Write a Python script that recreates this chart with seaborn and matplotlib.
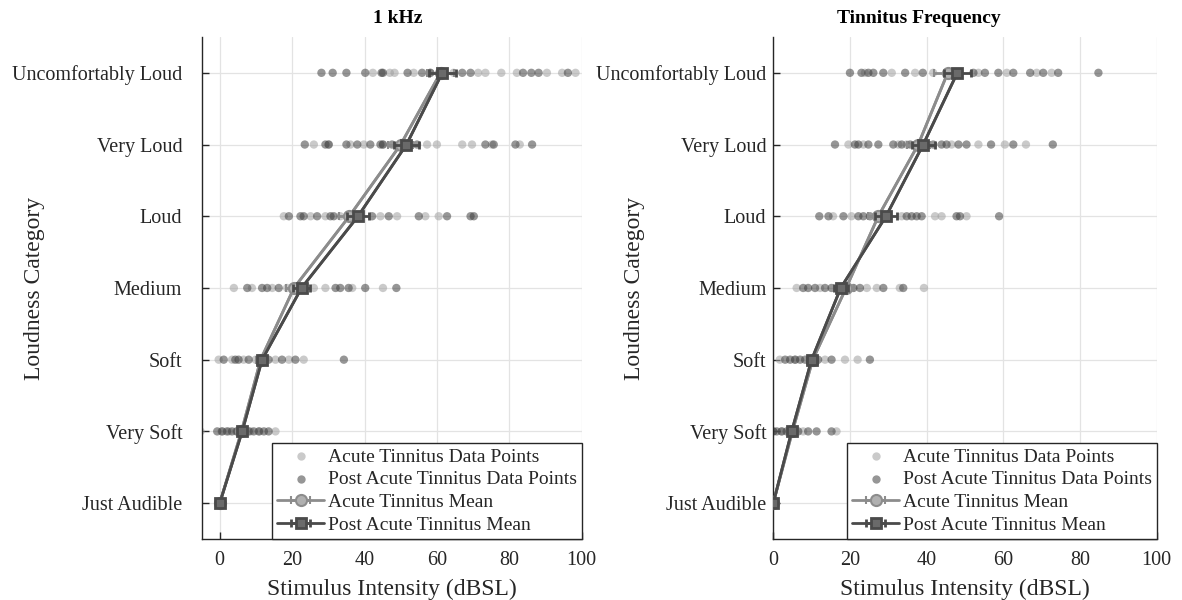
import numpy as np
import pandas as pd
import matplotlib
matplotlib.use("Agg")
import matplotlib.pyplot as plt
import seaborn as sns

categories = ["Just Audible", "Very Soft", "Soft", "Medium", "Loud", "Very Loud", "Uncomfortably Loud"]
x_ticks = [0, 20, 40, 60, 80, 100]

# ---- 1 kHz panel: individual points (dBSL) per loudness category ----
khz_acute_ja = [0, 0, 0, 0, 0, 0]
khz_acute_vs = [-5.3, 0.5, 2.5, 4.5, 6.0, 8.5, 11.0, 15.4]
khz_acute_soft = [-0.3, 3.4, 6.6, 9.9, 12.5, 15.4, 19.1, 23.2]
khz_acute_med = [3.9, 8.9, 14.5, 18.6, 20.4, 26.0, 29.2, 36.6, 45.1]
khz_acute_loud = [17.7, 25.1, 29.2, 33.3, 36.0, 44.4, 49.0, 56.8, 60.5]
khz_acute_vl = [26.0, 30.1, 36.1, 39.8, 45.1, 49.9, 57.3, 60.0, 67.0, 69.7, 75.2, 82.9]
khz_acute_ul = [42.3, 47.0, 48.3, 53.6, 58.2, 64.6, 71.4, 73.4, 77.8, 82.1, 90.4, 94.6, 98.3]

khz_post_ja = [0, 0, 0, 0, 0, 0]
khz_post_vs = [-0.7, 0.7, 2.0, 3.4, 4.8, 6.2, 8.0, 9.4, 10.8, 12.2, 13.5]
khz_post_soft = [1.1, 4.3, 5.2, 8.0, 11.7, 13.5, 17.2, 20.9, 34.3]
khz_post_med = [7.6, 11.7, 13.1, 16.3, 22.8, 32.0, 33.3, 35.6, 40.2, 48.8]
khz_post_loud = [19.1, 22.3, 23.2, 26.9, 30.6, 31.5, 38.4, 42.1, 46.7, 55.0, 62.8, 69.3, 70.2]
khz_post_vl = [23.5, 29.2, 30.1, 35.0, 38.0, 41.6, 44.4, 45.1, 47.6, 51.8, 54.5, 73.4, 75.7, 81.7, 86.3]
khz_post_ul = [28.1, 31.2, 35.0, 40.2, 44.7, 45.1, 51.9, 55.9, 58.2, 61.5, 67.0, 69.3, 83.8, 86.1, 88.1, 96.2]

khz_acute_mean = [0, 6.0, 11.3, 20.5, 35.8, 50.0, 61.0]
khz_acute_sem = [0, 0.9, 1.2, 2.2, 2.8, 3.4, 3.8]
khz_post_mean = [0, 6.2, 11.7, 22.6, 38.2, 51.6, 61.5]
khz_post_sem = [0, 0.8, 1.1, 2.3, 3.0, 3.5, 3.7]

# ---- Tinnitus frequency panel ----
tf_acute_ja = [0, 0, 0, 0, 0, 0]
tf_acute_vs = [0.0, 2.2, 4.8, 7.8, 16.5]
tf_acute_soft = [1.7, 5.7, 10.0, 13.5, 18.7, 22.0]
tf_acute_med = [6.1, 12.2, 19.1, 24.4, 27.0, 33.0, 39.3]
tf_acute_loud = [15.6, 20.4, 27.4, 33.5, 42.2, 43.9, 50.4]
tf_acute_vl = [19.6, 23.5, 32.6, 34.8, 37.8, 46.5, 53.5, 60.4, 65.9]
tf_acute_ul = [23.9, 30.9, 37.0, 41.7, 45.2, 53.5, 60.9, 68.7, 72.6]

tf_post_ja = [0, 0, 0, 0, 0, 0]
tf_post_vs = [0.0, 0.9, 2.2, 3.5, 4.8, 6.5, 9.1, 11.3, 15.2]
tf_post_soft = [3.1, 4.4, 5.7, 7.0, 8.3, 10.0, 11.7, 15.2, 25.2]
tf_post_med = [7.8, 9.1, 10.9, 13.5, 15.2, 17.4, 20.9, 22.6, 28.7, 33.9]
tf_post_loud = [12.0, 14.4, 18.3, 22.2, 23.5, 25.2, 29.6, 34.8, 36.1, 37.4, 38.7, 47.8, 48.7, 58.9]
tf_post_vl = [16.1, 21.3, 22.2, 24.8, 27.4, 31.3, 33.5, 35.7, 39.1, 41.7, 43.9, 45.2, 48.3, 50.4, 56.8, 62.6, 72.9]
tf_post_ul = [20.0, 23.0, 24.8, 26.1, 28.7, 34.4, 39.0, 48.0, 52.2, 55.2, 58.7, 62.6, 67.0, 70.4, 74.3, 84.8]

tf_acute_mean = [0, 5.0, 10.3, 19.0, 27.4, 37.8, 45.5]
tf_acute_sem = [0, 1.0, 1.4, 2.0, 2.8, 3.0, 3.6]
tf_post_mean = [0, 4.8, 10.0, 17.6, 29.4, 39.1, 48.0]
tf_post_sem = [0, 0.9, 1.3, 1.8, 2.9, 3.0, 3.6]

labels = ["Acute Tinnitus Data Points", "Post Acute Tinnitus Data Points",
          "Acute Tinnitus Mean", "Post Acute Tinnitus Mean"]

sns.set_theme(style="white")
plt.rcParams["font.family"] = ["Liberation Serif", "DejaVu Serif"]

ACUTE_PT = "#a0a0a0"
POST_PT = "#404040"
ACUTE_LINE = "#8c8c8c"
POST_LINE = "#4a4a4a"


def build_df(acute_lists, post_lists):
    rows = []
    for i, (a, p) in enumerate(zip(acute_lists, post_lists)):
        for v in a:
            rows.append((v, i, "acute"))
        for v in p:
            rows.append((v, i, "post"))
    return pd.DataFrame(rows, columns=["value", "pos", "group"])


def draw(ax, df, am, asem, pm, psem, title, xlim, ypad, ylab_x, title_x):
    pos = np.arange(len(categories))
    ax.grid(True, color="#e3e3e3", linewidth=0.9)
    ax.set_axisbelow(True)
    sns.scatterplot(data=df, x="value", y="pos", hue="group",
                    palette={"acute": ACUTE_PT, "post": POST_PT},
                    alpha=0.55, s=36, linewidth=0, legend=False, ax=ax, zorder=2)
    sns.lineplot(x=am, y=pos, sort=False, color=ACUTE_LINE, linewidth=2.0, ax=ax, zorder=3)
    sns.lineplot(x=pm, y=pos, sort=False, color=POST_LINE, linewidth=2.0, ax=ax, zorder=4)
    ea = ax.errorbar(am, pos, xerr=asem, fmt="-o", color=ACUTE_LINE, mfc="#b0b0b0",
                     mec=ACUTE_LINE, ms=8, mew=1.5, elinewidth=2, capsize=3, capthick=2,
                     lw=2.0, zorder=5)
    ep = ax.errorbar(pm, pos, xerr=psem, fmt="-s", color=POST_LINE, mfc="#6a6a6a",
                     mec=POST_LINE, ms=7, mew=2, elinewidth=2, capsize=3, capthick=2,
                     lw=2.0, zorder=6)
    ax.set_xlim(*xlim)
    ax.set_ylim(-0.5, 6.5)
    ax.set_xticks(x_ticks)
    ax.set_xticklabels([str(t) for t in x_ticks])
    ax.set_yticks(pos)
    ax.set_yticklabels(categories)
    ax.tick_params(axis="both", direction="in", length=5, width=1, labelsize=14.5,
                   colors="#262626", left=True, bottom=True)
    ax.tick_params(axis="x", pad=9)
    ax.tick_params(axis="y", pad=ypad)
    for s in ["top", "right"]:
        ax.spines[s].set_visible(False)
    for s in ["left", "bottom"]:
        ax.spines[s].set_color("#262626")
        ax.spines[s].set_linewidth(1.0)
    ax.set_xlabel("Stimulus Intensity (dBSL)", fontsize=17, color="#262626", labelpad=6)
    ax.set_ylabel("Loudness Category", fontsize=17, color="#262626")
    ax.yaxis.set_label_coords(ylab_x, 0.5)
    ax.set_title(title, fontsize=14, fontweight="bold", color="black", pad=10, x=title_x)
    h1 = ax.scatter([], [], s=36, color=ACUTE_PT, alpha=0.55, linewidth=0)
    h2 = ax.scatter([], [], s=36, color=POST_PT, alpha=0.55, linewidth=0)
    leg = ax.legend([h1, h2, ea, ep], labels, loc="lower right", borderaxespad=0,
                    fontsize=14, frameon=True, fancybox=False, edgecolor="#262626",
                    framealpha=1, handlelength=2.4, handletextpad=0.2,
                    borderpad=0.25, labelspacing=0.27)
    leg.get_frame().set_linewidth(1.0)
    leg.set_zorder(10)


fig = plt.figure(figsize=(11.82, 6), dpi=100)
ax1 = fig.add_axes([0.1706, 0.1017, 0.3215, 0.8367])
ax2 = fig.add_axes([0.6542, 0.1017, 0.3244, 0.8367])

df1 = build_df([khz_acute_ja, khz_acute_vs, khz_acute_soft, khz_acute_med, khz_acute_loud, khz_acute_vl, khz_acute_ul],
               [khz_post_ja, khz_post_vs, khz_post_soft, khz_post_med, khz_post_loud, khz_post_vl, khz_post_ul])
df2 = build_df([tf_acute_ja, tf_acute_vs, tf_acute_soft, tf_acute_med, tf_acute_loud, tf_acute_vl, tf_acute_ul],
               [tf_post_ja, tf_post_vs, tf_post_soft, tf_post_med, tf_post_loud, tf_post_vl, tf_post_ul])

draw(ax1, df1, khz_acute_mean, khz_acute_sem, khz_post_mean, khz_post_sem, "1 kHz", (-5, 100),
     ypad=14, ylab_x=-0.412, title_x=0.517)
draw(ax2, df2, tf_acute_mean, tf_acute_sem, tf_post_mean, tf_post_sem, "Tinnitus Frequency", (0, 100),
     ypad=5, ylab_x=-0.335, title_x=0.38)

fig.savefig("out.png", dpi=100)
